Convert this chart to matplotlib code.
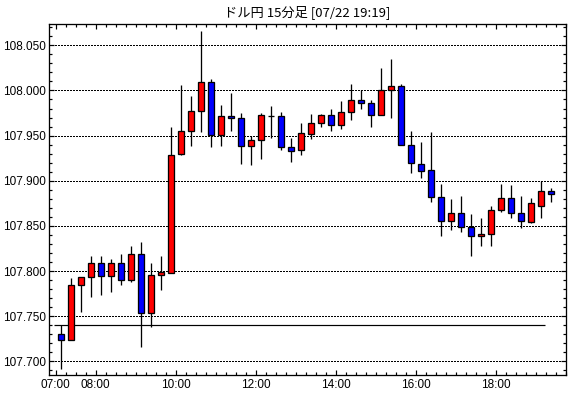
import matplotlib
matplotlib.use("Agg")
import matplotlib.pyplot as plt
from matplotlib.ticker import MultipleLocator, FixedLocator, FixedFormatter, FormatStrFormatter

# ---- data (15-minute candles starting 07:00) ----
start_hour = 7.0
step_hours = 0.25
opens = [107.730, 107.724, 107.785, 107.793, 107.8085, 107.795, 107.8085, 107.790, 107.8185, 107.753,
         107.796, 107.798, 107.930, 107.9547, 107.977, 108.009, 107.951, 107.9713, 107.969, 107.938,
         107.9447, 107.9713, 107.9713, 107.937, 107.9337, 107.9514, 107.9636, 107.9724, 107.9613, 107.9757,
         107.989, 107.9857, 107.9724, 108.001, 108.0046, 107.9395, 107.918, 107.9115, 107.8816, 107.855,
         107.8639, 107.8484, 107.8384, 107.8406, 107.8672, 107.8805, 107.8639, 107.854, 107.8716, 107.8883]
closes = [107.724, 107.785, 107.793, 107.8085, 107.795, 107.8085, 107.790, 107.8185, 107.753, 107.796,
          107.7985, 107.929, 107.9547, 107.9769, 108.009, 107.951, 107.9713, 107.969, 107.938, 107.9447,
          107.9724, 107.9722, 107.937, 107.9326, 107.9525, 107.9636, 107.9724, 107.9613, 107.9757, 107.989,
          107.9857, 107.9724, 108.000, 108.0046, 107.9395, 107.9193, 107.9104, 107.8816, 107.855, 107.8639,
          107.8484, 107.8384, 107.8406, 107.8672, 107.8805, 107.8639, 107.855, 107.875, 107.8883, 107.885]
highs = [107.740, 107.792, 107.793, 107.8166, 107.8166, 107.813, 107.8188, 107.8274, 107.8318, 107.8085,
         107.8163, 107.9595, 108.006, 107.9935, 108.0658, 108.0126, 107.9835, 107.997, 107.9746, 107.949,
         107.9746, 107.9824, 107.9757, 107.947, 107.9636, 107.9735, 107.9735, 107.980, 107.9879, 108.0068,
         108.000, 107.989, 108.0247, 108.0345, 108.0068, 107.9547, 107.9425, 107.9536, 107.896, 107.8794,
         107.8834, 107.8628, 107.8584, 107.8716, 107.896, 107.8949, 107.8827, 107.8805, 107.8993, 107.8916]
lows = [107.692, 107.724, 107.755, 107.7715, 107.7738, 107.777, 107.785, 107.7875, 107.7155, 107.7377,
        107.7786, 107.7975, 107.928, 107.939, 107.9543, 107.9377, 107.9388, 107.9554, 107.9188, 107.9177,
        107.9244, 107.947, 107.934, 107.9204, 107.9288, 107.9458, 107.9591, 107.9547, 107.957, 107.9669,
        107.980, 107.9591, 107.9724, 107.969, 107.9395, 107.9082, 107.9027, 107.876, 107.8384, 107.845,
        107.843, 107.8163, 107.8274, 107.8274, 107.865, 107.8584, 107.8473, 107.853, 107.8584, 107.876]

ref_level = 107.740
ref_span = (6.965, 19.225)

y_major = [107.700, 107.750, 107.800, 107.850, 107.900, 107.950, 108.000, 108.050]
x_major = [7, 8, 10, 12, 14, 16, 18]
x_labels = ["07:00", "08:00", "10:00", "12:00", "14:00", "16:00", "18:00"]
title = "ドル円 15分足 [07/22 19:19]"

# ---- figure ----
W, H = 570, 398
fig = plt.figure(figsize=(W / 100, H / 100), dpi=100)
L, R, T, B = 49, 565.7, 24, 375
ax = fig.add_axes([L / W, (H - B) / H, (R - L) / W, (B - T) / H])

px = 0.72  # one pixel in points

xs = [start_hour + step_hours * (i + 0.5) for i in range(len(opens))]
for x, o, c, h, l in zip(xs, opens, closes, highs, lows):
    ax.vlines(x, l, h, color="black", lw=px * 1.3, zorder=2)
    col = "#ff0000" if c >= o else "#0000ff"
    ax.bar(x, c - o, bottom=o, width=0.15, color=col, edgecolor="black",
           linewidth=px * 1.3, zorder=3)

ax.hlines(ref_level, ref_span[0], ref_span[1], color="black", lw=px * 1.2, zorder=1)

for yv in y_major:
    ax.axhline(yv, color="black", lw=px * 1.1, linestyle=(0, (1, 1)), zorder=0,
               antialiased=False)

ax.set_xlim(6.8325, 19.75)
ax.set_ylim(107.6848, 108.0736)

ax.yaxis.set_major_locator(FixedLocator(y_major))
ax.yaxis.set_major_formatter(FormatStrFormatter("%.3f"))
ax.yaxis.set_minor_locator(MultipleLocator(0.01))
ax.xaxis.set_major_locator(FixedLocator(x_major))
ax.xaxis.set_major_formatter(FixedFormatter(x_labels))
ax.xaxis.set_minor_locator(MultipleLocator(0.25))

ax.tick_params(which="both", direction="in", top=True, right=True, color="black", width=px * 1.2)
ax.tick_params(which="major", length=5 * px, pad=3)
ax.tick_params(which="minor", length=3 * px)
ax.tick_params(axis="y", which="major", pad=2)
for lab in ax.get_xticklabels() + ax.get_yticklabels():
    lab.set_fontfamily("Liberation Sans")
    lab.set_fontsize(8.5)
for sp in ax.spines.values():
    sp.set_linewidth(px * 1.3)

fig.text(((L + R) / 2) / W, 1 - 12.5 / H, title, ha="center", va="center",
         fontsize=9.5, family=["Noto Sans CJK JP", "DejaVu Sans"])

fig.savefig("out.png", dpi=100)
